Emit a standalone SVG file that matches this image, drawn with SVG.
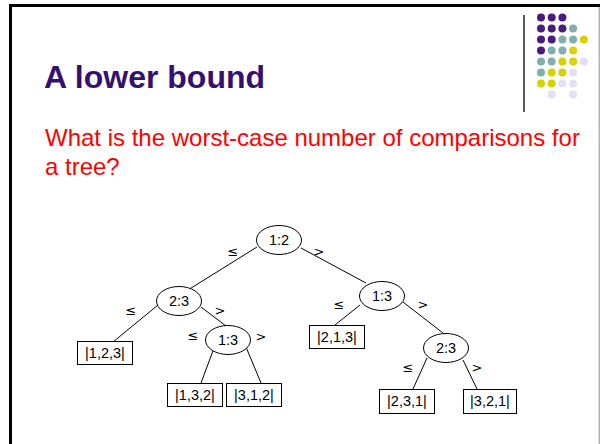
<svg xmlns="http://www.w3.org/2000/svg" width="600" height="444" viewBox="0 0 600 444">
  <style>
    .title { font-family: "Liberation Sans", Arial, sans-serif; font-weight: bold; font-size: 32px; fill: #35106e; }
    .body { font-family: "Liberation Sans", Arial, sans-serif; font-size: 24px; fill: #ff0000; }
    .node ellipse, .node rect { fill: #ffffff; stroke: #000000; stroke-width: 1; }
    .node text { font-family: "Liberation Sans", Arial, sans-serif; font-size: 14.5px; fill: #000000; text-anchor: middle; }
    .edges line { stroke: #000000; stroke-width: 1; }
    .edges text { font-family: "DejaVu Sans", "Liberation Sans", sans-serif; font-size: 13px; fill: #000000; text-anchor: middle; }
    .p { fill: #4b1a80; }
    .t { fill: #7fb0ae; }
    .y { fill: #d8d200; }
    .l { fill: #e2e0f2; }
  </style>

  <!-- page frame -->
  <rect x="0" y="0" width="600" height="444" fill="#ffffff"/>
  <line x1="9" y1="5.5" x2="600" y2="5.5" stroke="#000" stroke-width="3"/>
  <line x1="10.5" y1="4" x2="10.5" y2="444" stroke="#000" stroke-width="3"/>
  <line x1="599.3" y1="7" x2="599.3" y2="444" stroke="#b0b0b0" stroke-width="1.4"/>

  <!-- decorative rule and dot grid -->
  <line x1="524" y1="15" x2="524" y2="112" stroke="#222" stroke-width="1.5"/>
  <g id="dots">
    <circle class="p" cx="541" cy="17.5" r="4"/><circle class="p" cx="551.7" cy="17.5" r="4"/><circle class="p" cx="562.4" cy="17.5" r="4"/>
    <circle class="p" cx="541" cy="28.5" r="4"/><circle class="p" cx="551.7" cy="28.5" r="4"/><circle class="p" cx="562.4" cy="28.5" r="4"/><circle class="t" cx="573.1" cy="28.5" r="4"/>
    <circle class="p" cx="541" cy="39.5" r="4"/><circle class="p" cx="551.7" cy="39.5" r="4"/><circle class="t" cx="562.4" cy="39.5" r="4"/><circle class="t" cx="573.1" cy="39.5" r="4"/><circle class="y" cx="583.8" cy="39.5" r="4"/>
    <circle class="p" cx="541" cy="50.5" r="4"/><circle class="t" cx="551.7" cy="50.5" r="4"/><circle class="t" cx="562.4" cy="50.5" r="4"/><circle class="y" cx="573.1" cy="50.5" r="4"/>
    <circle class="t" cx="541" cy="61.5" r="4"/><circle class="t" cx="551.7" cy="61.5" r="4"/><circle class="y" cx="562.4" cy="61.5" r="4"/><circle class="y" cx="573.1" cy="61.5" r="4"/><circle class="l" cx="583.8" cy="61.5" r="4"/>
    <circle class="t" cx="541" cy="72.5" r="4"/><circle class="y" cx="551.7" cy="72.5" r="4"/><circle class="y" cx="562.4" cy="72.5" r="4"/><circle class="l" cx="573.1" cy="72.5" r="4"/>
    <circle class="y" cx="541" cy="83.5" r="4"/><circle class="y" cx="551.7" cy="83.5" r="4"/><circle class="l" cx="562.4" cy="83.5" r="4"/><circle class="l" cx="573.1" cy="83.5" r="4"/>
    <circle class="l" cx="551.7" cy="94.5" r="4"/><circle class="l" cx="573.1" cy="94.5" r="4"/>
  </g>

  <text class="title" x="44" y="88">A lower bound</text>
  <text class="body" x="45" y="146">What is the worst-case number of comparisons for</text>
  <text class="body" x="45" y="175">a tree?</text>

  <!-- decision tree connectors and branch labels -->
  <g id="edges" class="edges">
    <line x1="257" y1="247" x2="188" y2="290"/>
    <line x1="301" y1="248" x2="366" y2="283"/>
    <line x1="158" y1="305" x2="113" y2="342"/>
    <line x1="201" y1="307" x2="226" y2="326"/>
    <line x1="214" y1="348" x2="201" y2="383"/>
    <line x1="246" y1="347" x2="261" y2="383"/>
    <line x1="360" y1="305" x2="335" y2="325"/>
    <line x1="403" y1="302" x2="443" y2="333"/>
    <line x1="427" y1="358" x2="413" y2="389"/>
    <line x1="463" y1="360" x2="477" y2="389"/>
    <text x="233" y="256">≤</text>
    <text x="319" y="256">&gt;</text>
    <text x="131" y="315">≤</text>
    <text x="220" y="315">&gt;</text>
    <text x="193" y="340">≤</text>
    <text x="261" y="341">&gt;</text>
    <text x="339" y="309">≤</text>
    <text x="423" y="309">&gt;</text>
    <text x="408" y="372">≤</text>
    <text x="477" y="372">&gt;</text>
  </g>

  <g id="n12" class="node"><ellipse cx="279" cy="240" rx="22.5" ry="14.5"/><text x="279" y="245">1:2</text></g>
  <g id="n23a" class="node"><ellipse cx="179" cy="301" rx="22.5" ry="14.5"/><text x="179" y="306">2:3</text></g>
  <g id="n13a" class="node"><ellipse cx="228" cy="340" rx="22.5" ry="14.5"/><text x="228" y="345">1:3</text></g>
  <g id="n13b" class="node"><ellipse cx="382" cy="296" rx="22.5" ry="14.5"/><text x="382" y="301">1:3</text></g>
  <g id="n23b" class="node"><ellipse cx="446" cy="348" rx="22.5" ry="14.5"/><text x="446" y="353">2:3</text></g>

  <g id="l123" class="node"><rect x="77.5" y="341.5" width="55" height="23"/><text x="105" y="358">|1,2,3|</text></g>
  <g id="l132" class="node"><rect x="167.5" y="383.5" width="55" height="23"/><text x="195" y="400">|1,3,2|</text></g>
  <g id="l312" class="node"><rect x="226.5" y="383.5" width="55" height="23"/><text x="254" y="400">|3,1,2|</text></g>
  <g id="l213" class="node"><rect x="309.5" y="325.5" width="55" height="23"/><text x="337" y="342">|2,1,3|</text></g>
  <g id="l231" class="node"><rect x="379.5" y="389.5" width="55" height="24"/><text x="407" y="406">|2,3,1|</text></g>
  <g id="l321" class="node"><rect x="463.5" y="389.5" width="53" height="24"/><text x="490" y="406">|3,2,1|</text></g>
</svg>
